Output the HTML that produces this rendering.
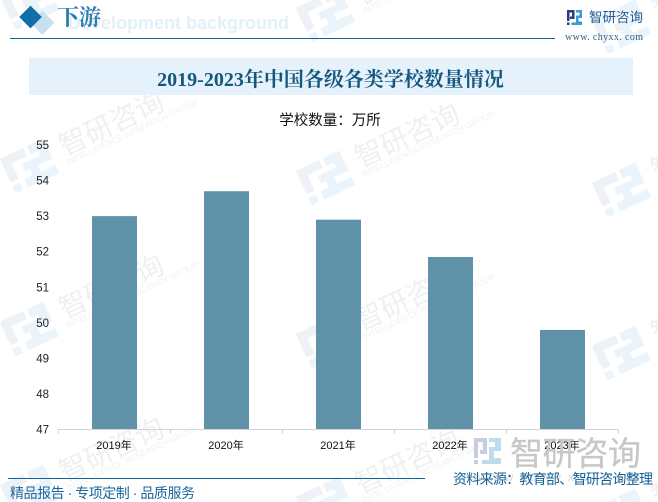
<!DOCTYPE html>
<html lang="zh"><head><meta charset="utf-8"><title>2019-2023年中国各级各类学校数量情况</title>
<style>
html,body{margin:0;padding:0;background:#fff;overflow:hidden}
body{width:658px;height:502px}
svg{display:block}
text{font-family:"Liberation Sans","Noto Sans CJK SC",sans-serif}
.serif{font-family:"Liberation Serif","Noto Serif CJK SC",serif}
</style></head>
<body>
<svg id="chart" xmlns="http://www.w3.org/2000/svg" width="658" height="502" viewBox="0 0 658 502">
<defs>
<pattern id="wm-tile" patternUnits="userSpaceOnUse" width="296" height="163" patternTransform="translate(-3,-88)">
<g transform="translate(32,90) rotate(-25)">
<path d="M-24 -18H2V-9H-15V8H-24Z" fill="#eef2f6"/>
<path d="M-6 -4H2V4H-6Z" fill="#eef2f6"/>
<rect x="-24" y="12" width="8" height="8" fill="#eaf4fa"/>
<path d="M6 -18H24V4H8V11H24V20H-10V11H-1V-4H14V-9H6Z" fill="#eaf4fa"/>
<text x="36" y="7" font-size="28" fill="#eff0f2">智研咨询</text>
<text x="35.500" y="16.500" font-size="8.500" fill="#f0f1f3">INTELLIGENCE RESEARCH GROUP</text>
</g>
</pattern>
</defs>
<g id="watermarks">
<rect x="0" y="0" width="293" height="502" fill="url(#wm-tile)"/>
<rect x="293" y="-12" width="296" height="502" fill="url(#wm-tile)" transform="translate(0,12)"/>
<rect x="589" y="-24" width="69" height="502" fill="url(#wm-tile)" transform="translate(0,24)"/>
</g>

<text x="68" y="29" font-size="18" font-weight="700" fill="#e2f0fa" textLength="221" style="font-family:'Liberation Sans',sans-serif">Development background</text>
<rect x="36" y="9" width="17" height="17" fill="#c6e0f0" transform="rotate(45 37 17.5)"/>
<rect x="22.500" y="9" width="16" height="16" fill="#126ea9" transform="rotate(45 30.500 17)"/>
<text x="57" y="25" font-size="22" font-weight="700" fill="#2a7cb2" class="serif">下游</text>
<line x1="10" y1="38.500" x2="555" y2="38.500" stroke="#0e659c" stroke-width="1"/>

<g transform="translate(567,10)">
<path d="M0 0H7.500V9H3V6.500H5V2.500H2.500V11H0Z" fill="#25407f"/>
<rect x="0" y="12.500" width="2.500" height="2.500" fill="#25407f"/>
<path d="M9 0H15V8H11.500V11.500H15V15H4.500V12.500H9V5.500H12.500V2.500H9Z" fill="#3a9bd5"/>
</g>
<text x="589" y="22" font-size="13.500" fill="#1d5f96">智研咨询</text>
<text x="565" y="40" font-size="10" fill="#35607f" class="serif" textLength="78">www. chyxx. com</text>

<rect x="29" y="58" width="604" height="37" fill="#e6f2fb"/>
<text x="330.500" y="86" text-anchor="middle" font-size="20" font-weight="700" fill="#14577f" class="serif">2019-2023年中国各级各类学校数量情况</text>
<text x="330" y="125" text-anchor="middle" font-size="14.500" fill="#111">学校数量：万所</text>

<g id="y-axis"></g>
<g id="bars"></g>
<g id="x-axis"></g>

<g transform="translate(474,438)">
<path d="M0 0H13V16H6V12H9V4H4V20H0Z" fill="#c6cddf"/>
<rect x="0" y="22" width="4" height="4" fill="#c6cddf"/>
<path d="M15 0H27V13H20V20H27V26H8V22H15V9H21V4H15Z" fill="#bfdcef"/>
</g>
<text x="510" y="465" font-size="33" fill="#c8c8c8" stroke="#c8c8c8" stroke-width="0.300" textLength="131">智研咨询</text>
<text x="474" y="481" font-size="12" fill="#d6d6d6" textLength="165">www.chyxx.com</text>

<line x1="8" y1="478.500" x2="425" y2="478.500" stroke="#0e659c" stroke-width="1"/>
<text x="10" y="498" font-size="14" fill="#1a659c" textLength="185">精品报告 · 专项定制 · 品质服务</text>
<text x="453" y="484" font-size="14" fill="#0f5f96" textLength="200">资料来源：教育部、智研咨询整理</text>
</svg>
<script>
const categories = ['2019年', '2020年', '2021年', '2022年', '2023年'];
const schoolCounts = [53.0, 53.7, 52.9, 51.85, 49.8];
const yTickLabels = [47, 48, 49, 50, 51, 52, 53, 54, 55];

const NS = 'http://www.w3.org/2000/svg';
const yMin = 47, yMax = 55;
const plotTop = 145, plotBottom = 429.5, plotLeft = 58, plotRight = 618;
const barWidth = 45;

function yScale(v) { return plotBottom - (v - yMin) / (yMax - yMin) * (plotBottom - plotTop); }
function bandWidth() { return (plotRight - plotLeft) / categories.length; }
function xCenter(i) { return plotLeft + bandWidth() * (i + 0.5); }
function make(tag, attrs, parent) {
  const el = document.createElementNS(NS, tag);
  for (const k in attrs) el.setAttribute(k, attrs[k]);
  parent.appendChild(el);
  return el;
}

const yAxis = document.getElementById('y-axis');
yTickLabels.forEach(function (t) {
  const el = make('text', { x: 49, y: yScale(t) + 4, 'text-anchor': 'end', 'font-size': 11.5, fill: '#222' }, yAxis);
  
  
  el.textContent = t;
});

const barsGroup = document.getElementById('bars');
schoolCounts.forEach(function (v, i) {
  const el = make('rect', { x: xCenter(i) - barWidth / 2 + 0.5, y: yScale(v), width: barWidth, height: plotBottom - yScale(v), fill: '#5f91a9' }, barsGroup);
  
  
});

const xAxis = document.getElementById('x-axis');
const axisLine = make('line', { x1: plotLeft, y1: plotBottom, x2: plotRight + 1, y2: plotBottom, stroke: '#d4d4d4', 'stroke-width': 1 }, xAxis);


for (let i = 0; i <= categories.length; i++) {
  const px = Math.round(plotLeft + bandWidth() * i) + 0.5;
  const tick = make('line', { x1: px, y1: plotBottom, x2: px, y2: plotBottom + 4, stroke: '#d4d4d4', 'stroke-width': 1 }, xAxis);
  
  
}
categories.forEach(function (c, i) {
  const el = make('text', { x: xCenter(i), y: 449, 'text-anchor': 'middle', 'font-size': 11, fill: '#111' }, xAxis);
  
  
  el.textContent = c;
});
</script>
</body></html>
